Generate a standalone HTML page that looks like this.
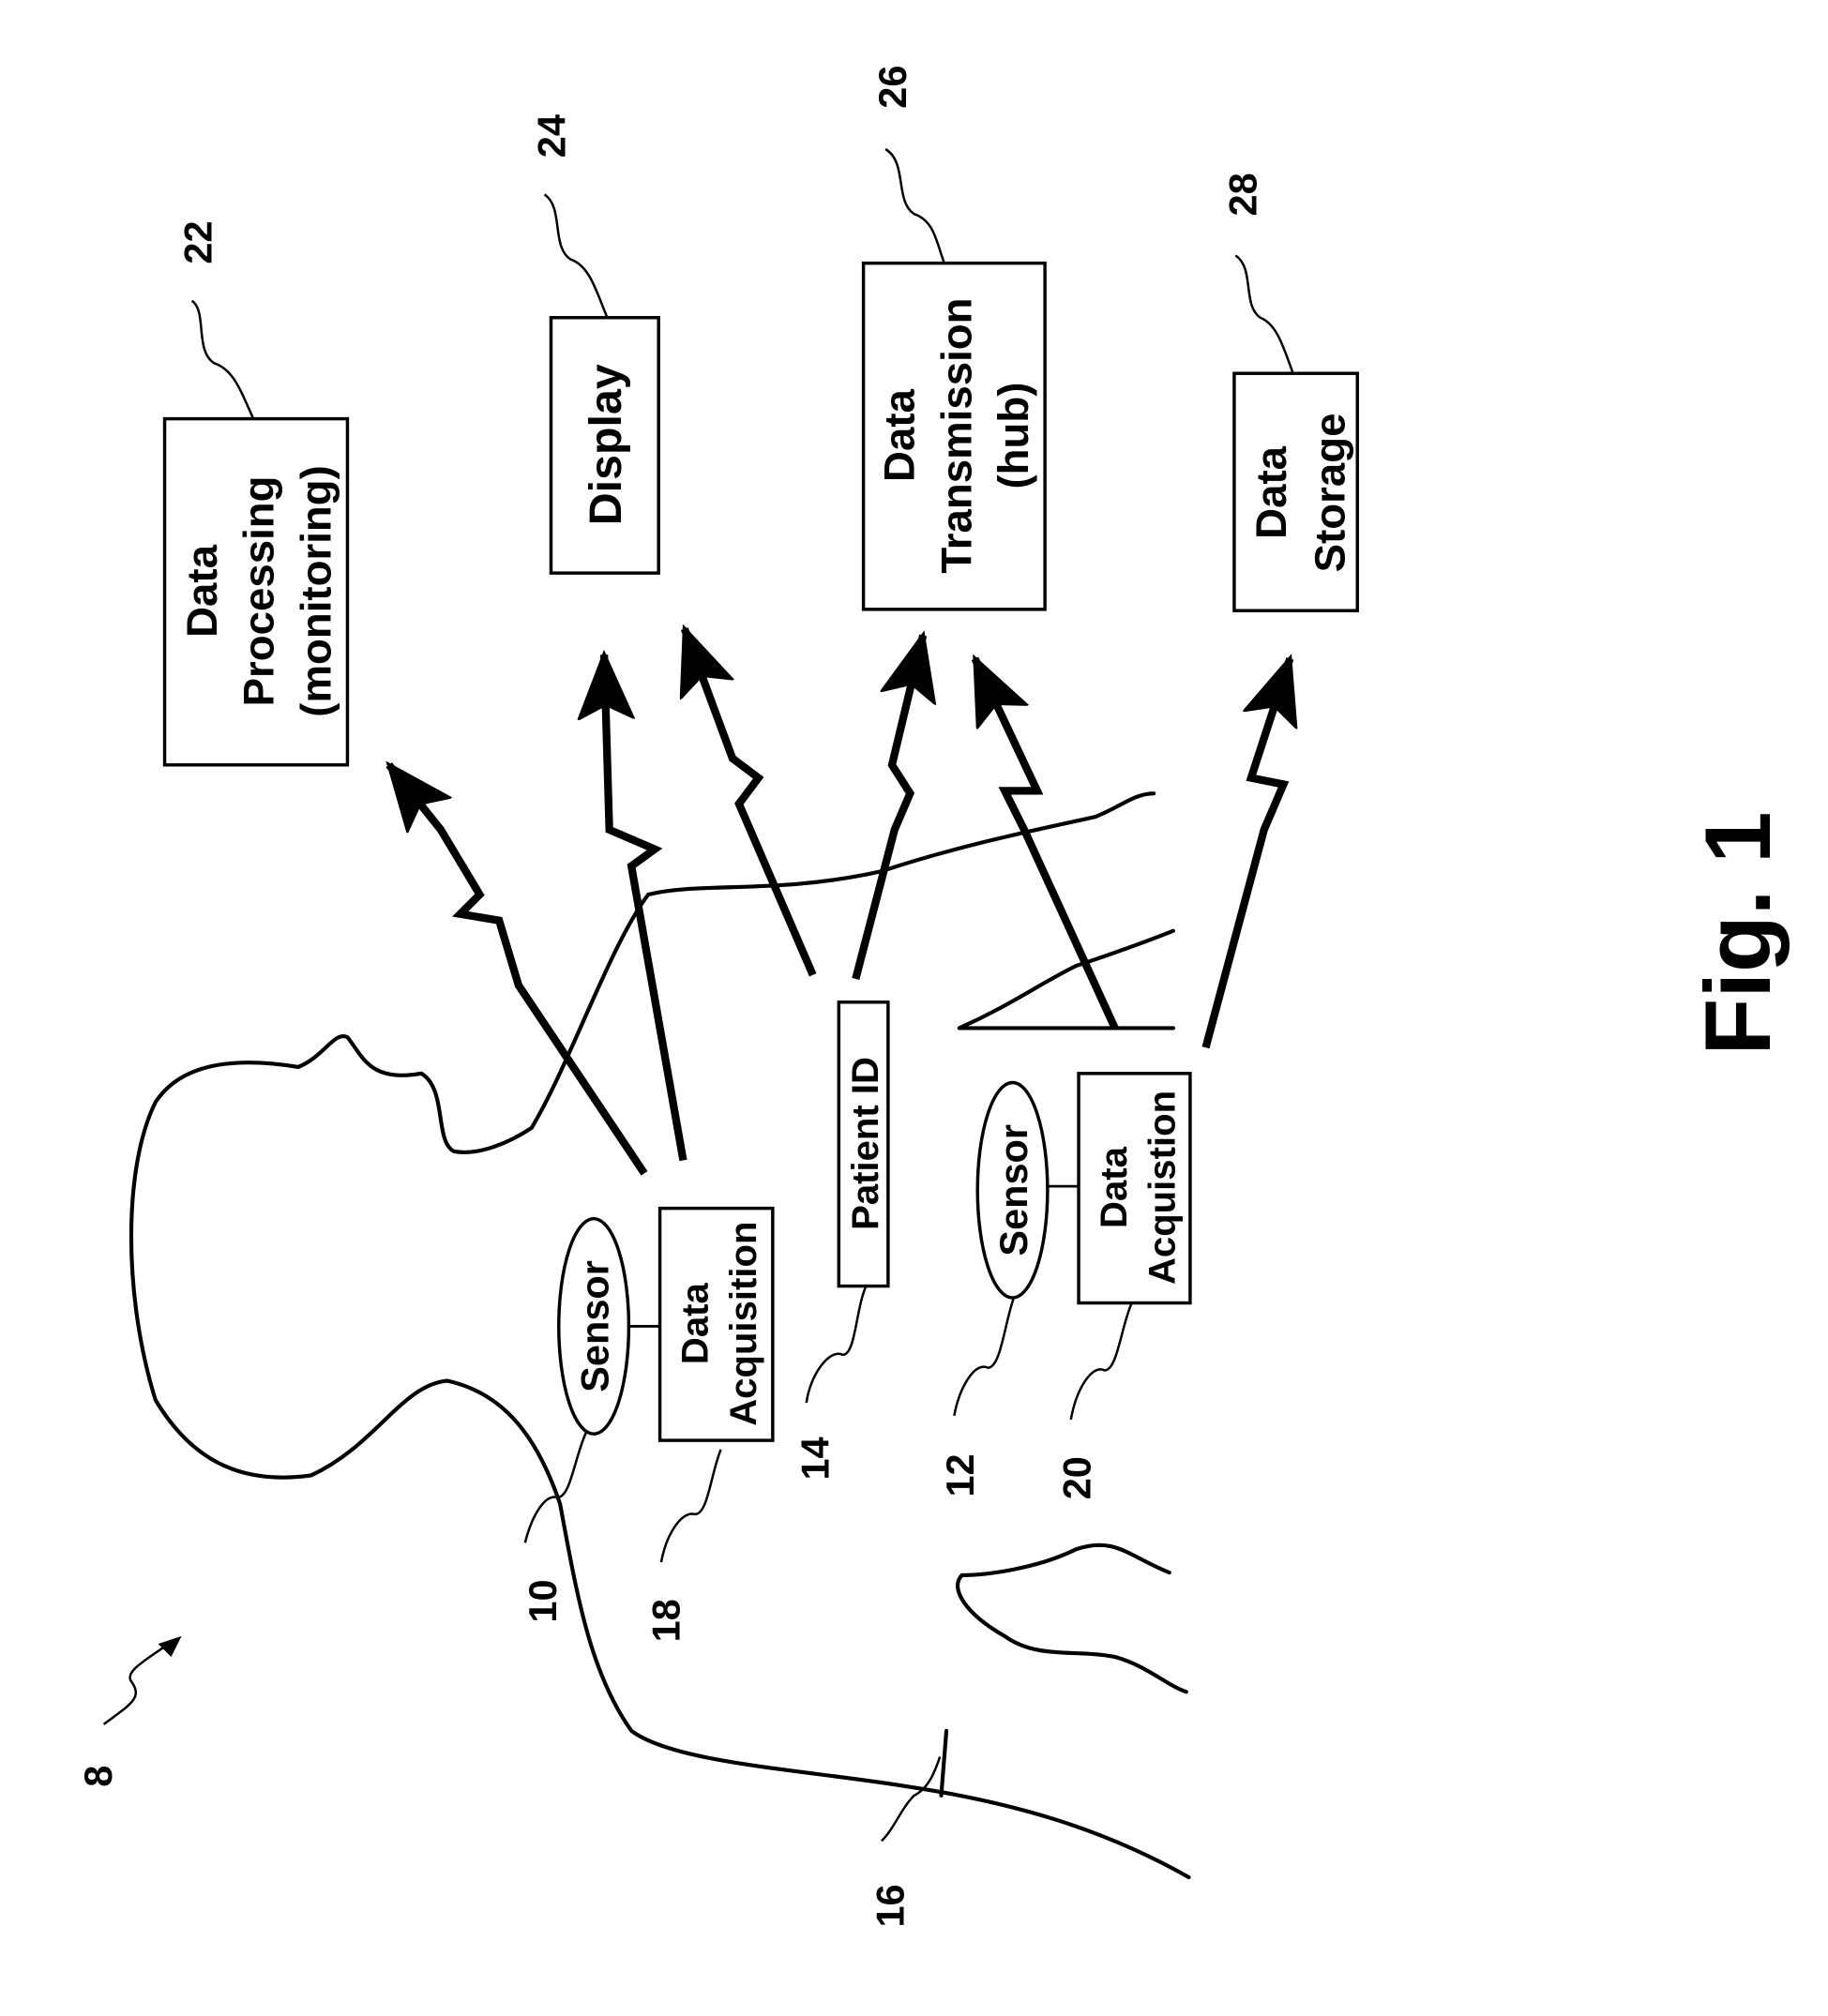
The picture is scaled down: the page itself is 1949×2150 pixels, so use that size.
<!DOCTYPE html>
<html><head><meta charset="utf-8"><style>
html,body{margin:0;padding:0;background:#fff;}
svg{display:block;}
text{font-family:"Liberation Sans",Arial,sans-serif;font-weight:bold;fill:#000;}
</style></head><body>
<svg width="1949" height="2150" viewBox="0 0 1410 1555" preserveAspectRatio="none" xmlns="http://www.w3.org/2000/svg">
<defs>
<marker id="ah" markerUnits="userSpaceOnUse" markerWidth="60" markerHeight="50" refX="50" refY="22" orient="auto">
<path d="M2,2 L50,22 L2,42 L12,22 Z" fill="#000" stroke="#000" stroke-width="3" stroke-linejoin="miter"/>
</marker>
</defs>
<rect width="1410" height="1555" fill="#fff"/>
<g fill="none" stroke="#000" stroke-width="3" stroke-linecap="round" stroke-linejoin="round">
<path d="M917,1448 C850,1410 780,1390 700,1378 C620,1365 520,1360 487,1335 C455,1290 445,1230 432,1160 C415,1110 390,1075 345,1065 C310,1068 290,1115 240,1138 C190,1145 150,1130 120,1080 C95,1000 95,900 120,850 C140,820 180,815 230,823 C250,815 258,795 268,800 C280,815 285,835 325,828 C345,840 335,880 350,888 C370,892 395,880 410,870 C440,820 470,730 500,690 C540,680 600,690 680,672 C740,652 800,640 845,630 C865,622 875,612 890,612"/>
<path d="M740,793 C780,775 800,760 830,745 C860,735 880,728 905,718"/>
<path d="M740,793 L905,793"/>
<path d="M902,1213 C870,1200 860,1185 830,1195 C800,1210 760,1215 742,1215 C732,1225 745,1245 775,1262 C800,1280 830,1272 860,1278 C885,1285 900,1300 915,1305"/>
<path d="M730,1335 L726,1385"/>
</g>
<g fill="#fff" stroke="#000" stroke-width="2.5">
<rect x="127" y="323" width="141" height="267"/>
<rect x="425" y="245" width="83" height="197"/>
<rect x="666" y="203" width="140" height="267"/>
<rect x="952" y="288" width="95" height="183"/>
<rect x="647" y="773" width="38" height="219"/>
<rect x="509" y="932" width="87" height="179"/>
<rect x="832" y="828" width="86" height="177"/>
<ellipse cx="458" cy="1023" rx="27" ry="83"/>
<ellipse cx="781" cy="918" rx="27" ry="83"/>
</g>
<g stroke="#000" stroke-width="2"><line x1="485" y1="1023" x2="509" y2="1023"/><line x1="808" y1="915" x2="832" y2="915"/></g>
<g fill="none" stroke="#000" stroke-width="6" stroke-linejoin="miter" marker-end="url(#ah)">
<polyline points="497,905 400,760 385,710 355,705 370,690 340,640 300,590"/>
<polyline points="527,895 487,668 505,655 470,640 466,505"/>
<polyline points="627,752 570,620 585,600 565,585 528,485"/>
<polyline points="660,755 690,640 702,612 688,590 712,490"/>
<polyline points="860,793 790,640 775,610 800,610 752,508"/>
<polyline points="930,808 975,640 990,605 965,600 995,508"/>
</g>
<g font-size="33" text-anchor="middle">
<text transform="translate(167,456) rotate(-90)">Data</text>
<text transform="translate(211,456) rotate(-90)">Processing</text>
<text transform="translate(255,456) rotate(-90)">(monitoring)</text>
<text font-size="35" transform="translate(479,343) rotate(-90)">Display</text>
<text transform="translate(705,336) rotate(-90)">Data</text>
<text transform="translate(749,336) rotate(-90)">Transmission</text>
<text transform="translate(793,336) rotate(-90)">(hub)</text>
<text transform="translate(992,380) rotate(-90)">Data</text>
<text transform="translate(1037,380) rotate(-90)">Storage</text>
<text font-size="29" transform="translate(677,882) rotate(-90)">Patient ID</text>
<text font-size="30" transform="translate(469,1023) rotate(-90)">Sensor</text>
<text font-size="30" transform="translate(792,918) rotate(-90)">Sensor</text>
<text font-size="29" transform="translate(546,1021) rotate(-90)">Data</text>
<text font-size="29" transform="translate(583,1021) rotate(-90)">Acquisition</text>
<text font-size="29" transform="translate(869,916) rotate(-90)">Data</text>
<text font-size="29" transform="translate(906,916) rotate(-90)">Acquistion</text>
</g>
<g font-size="30" text-anchor="middle">
<text transform="translate(163,187) rotate(-90)">22</text>
<text transform="translate(436,105) rotate(-90)">24</text>
<text transform="translate(699,67) rotate(-90)">26</text>
<text transform="translate(969,150) rotate(-90)">28</text>
<text transform="translate(639,1125) rotate(-90)">14</text>
<text transform="translate(751,1138) rotate(-90)">12</text>
<text transform="translate(841,1140) rotate(-90)">20</text>
<text transform="translate(429,1235) rotate(-90)">10</text>
<text transform="translate(524,1250) rotate(-90)">18</text>
<text transform="translate(697,1470) rotate(-90)">16</text>
<text transform="translate(86,1370) rotate(-90)">8</text>
<text font-size="72" transform="translate(1365,720) rotate(-90)">Fig. 1</text>
</g>
<g fill="none" stroke="#000" stroke-width="1.8">
<path d="M148,232 C160,240 150,270 165,280 C180,285 185,300 195,322"/>
<path d="M420,150 C435,160 425,190 440,200 C455,205 460,225 468,244"/>
<path d="M683,115 C700,125 690,155 705,165 C720,170 722,185 728,202"/>
<path d="M953,197 C968,207 958,235 972,245 C985,250 990,268 997,287"/>
<path d="M622,1082 C625,1060 640,1040 650,1045 C660,1045 660,1010 668,992"/>
<path d="M736,1092 C740,1070 752,1050 762,1055 C772,1055 775,1020 782,1001"/>
<path d="M826,1095 C830,1072 842,1052 852,1057 C862,1057 865,1022 873,1005"/>
<path d="M405,1190 C410,1170 420,1152 430,1155 C440,1155 443,1125 452,1105"/>
<path d="M510,1205 C514,1183 526,1165 536,1168 C546,1168 548,1138 556,1118"/>
<path d="M680,1420 C690,1410 695,1395 705,1385 C715,1380 720,1370 725,1355"/>
<path d="M80,1330 C100,1315 110,1310 102,1298 C95,1290 110,1282 130,1268"/>
</g>
<path d="M140,1262 L122,1268 L132,1278 Z" fill="#000"/>
</svg>
</body></html>
